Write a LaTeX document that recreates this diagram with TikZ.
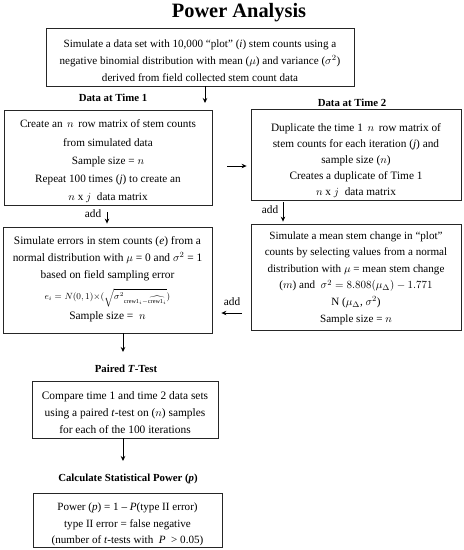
\documentclass[tikz,border=0pt]{standalone}
\usepackage{fontspec}
\setmainfont{Liberation Serif}
\usetikzlibrary{arrows.meta}
\newcommand\headfont{\fontsize{10.8}{12}\selectfont\bfseries}
\newcommand\bfs[2]{\fontsize{#1}{#2}\selectfont}
\tikzset{
  frame/.style={draw=black!85, line width=0.8pt, inner sep=0pt},
  txt/.style={inner sep=0pt, align=center},
  head/.style={font=\headfont, inner sep=0pt},
  lbl/.style={font=\bfs{11.3}{13}, inner sep=0pt},
  arr/.style={-{Stealth[length=5pt,width=4.5pt]}, line width=0.8pt},
}
\begin{document}
\begin{tikzpicture}[x=1pt,y=-1pt]
\useasboundingbox (0,0) rectangle (464,550);
\node[font=\bfs{20.4}{23}\bfseries, inner sep=0pt, anchor=base] (title) at (239,17.5) {Power Analysis};

% top box
\node[frame, minimum width=308pt, minimum height=58pt] (top) at (200,57) {};
\node[txt, font=\bfs{11.1}{17}] (topt) at (200,60.5)
 {Simulate a data set with 10,000 “plot” (\textit{i}) stem counts using a\\
  negative binomial distribution with mean ($\mu$) and variance ($\sigma^2$)\\
  derived from field collected stem count data};

\node[head] (h1) at (113,98) {Data at Time 1};
\node[head] (h2) at (352,102.5) {Data at Time 2};

% box 1
\node[frame, minimum width=208pt, minimum height=95pt] (b1) at (108,157.5) {};
\node[txt, font=\bfs{11.2}{18.3}] (b1t) at (108,161.5)
 {Create an $\,n\,$ row matrix of stem counts\\
  from simulated data\\
  Sample size = $n$\\
  Repeat 100 times (\textit{j}) to create an\\
  $n$ x $j$ \ data matrix};

% box 2
\node[frame, minimum width=210pt, minimum height=91pt] (b2) at (356,154.5) {};
\node[txt, font=\bfs{11.3}{16}] (b2t) at (356,160.5)
 {Duplicate the time 1 $\,n\,$ row matrix of\\
  stem counts for each iteration (\textit{j}) and\\
  sample size ($n$)\\
  Creates a duplicate of Time 1\\
  $n$ x $j$ \ data matrix};

% box 3
\node[frame, minimum width=209pt, minimum height=106pt] (b3) at (107.5,280) {};
\node[txt, font=\bfs{11.4}{17}] (b3t) at (107.5,279)
 {Simulate errors in stem counts (\textit{e}) from a\\
  normal distribution with $\mu$ = 0 and $\sigma^2$ = 1\\
  based on field sampling error\\[4pt]
  {\fontsize{8.8}{17}\selectfont$e_i = N(0,1){\times}(\sqrt{\sigma^2{}_{\mathrm{crew1}_i-\widehat{\mathrm{crew1}_i}}})$}\\[3pt]
  Sample size = \ $n$};

% box 4
\node[frame, minimum width=210pt, minimum height=106pt] (b4) at (356,277) {};
\node[txt, font=\bfs{11.1}{16.6}] (b4t) at (356,278)
 {Simulate a mean stem change in “plot”\\
  counts by selecting values from a normal\\
  distribution with $\mu$ = mean stem change\\
  ($m$) and \ $\sigma^2 = 8.808(\mu_\Delta) - 1.771$\\
  N ($\mu_\Delta$, $\sigma^2$)\\
  Sample size = $n$};

\node[head] (h3) at (126,369) {Paired \textit{T}-Test};

% box 5
\node[frame, minimum width=186pt, minimum height=57pt] (b5) at (125,409.5) {};
\node[txt, font=\bfs{11.4}{17}] (b5t) at (125,412.5)
 {Compare time 1 and time 2 data sets\\
  using a paired \textit{t}-test on ($n$) samples\\
  for each of the 100 iterations};

\node[head] (h4) at (128,479) {Calculate Statistical Power (\textit{p})};

% box 6
\node[frame, minimum width=189pt, minimum height=54pt] (b6) at (127.5,520) {};
\node[txt, font=\bfs{11.1}{16.5}] (b6t) at (127.5,524.5)
 {Power (\textit{p}) = 1 -- \textit{P}(type II error)\\
  type II error = false negative\\
  (number of \textit{t}-tests with \ \textit{P} \ > 0.05)};

% connectors
\coordinate (t1) at (205,103);
\draw[arr] (t1 |- top.south) -- (t1);

\coordinate (c12) at (227,166);
\draw[arr, shorten >=4pt] (c12) -- (c12 -| b2.west);

\coordinate (c13) at (107,212);
\draw[arr, shorten >=3pt] (c13) -- (c13 |- b3.north);
\node[lbl] (add1) at (93,214) {add};

\coordinate (c24) at (283,202);
\draw[arr, shorten >=2pt] (c24) -- (c24 |- b4.north);
\node[lbl] (add2) at (270,210) {add};

\coordinate (c43) at (242,313);
\draw[arr, shorten >=9pt] (c43) -- (c43 -| b3.east);
\node[lbl] (add3) at (232,302) {add};

\coordinate (p1) at (123,352);
\draw[arr] (p1 |- b3.south) -- (p1);

\coordinate (p2) at (123,461);
\draw[arr] (p2 |- b5.south) -- (p2);
\end{tikzpicture}
\end{document}
